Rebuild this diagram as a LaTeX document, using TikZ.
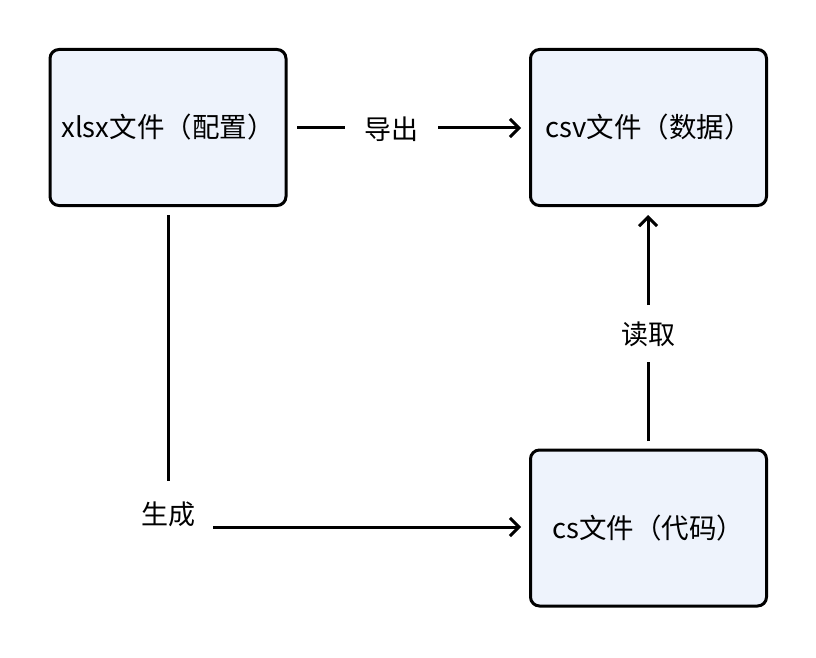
\documentclass[tikz,border=0pt]{standalone}
\usepackage{fontspec}
\setmainfont{Noto Sans CJK SC}
\usetikzlibrary{arrows.meta}
\definecolor{boxfill}{HTML}{EEF3FC}
\begin{document}
\begin{tikzpicture}[x=1pt,y=-1pt,
  box/.style={draw=black,line width=3pt,fill=boxfill,rounded corners=9pt,minimum width=236pt,minimum height=156pt,font=\fontsize{27.5}{32}\selectfont},
  lbl/.style={font=\fontsize{27}{32}\selectfont,inner sep=2pt},
  conn/.style={line width=3pt},
  arr/.style={conn,-{Straight Barb[length=9pt,width=18pt,line width=3pt]}}]
\useasboundingbox (0,0) rectangle (816,658);
\node[box] (a) at (168,127.5) {xlsx文件（配置）};
\node[box] (b) at (648.5,127.5) {csv文件（数据）};
\node[box] (c) at (648.5,528) {cs文件（代码）};
\node[lbl] (l1) at (391,129) {导出};
\node[lbl] (l2) at (648,334) {读取};
\node[lbl] (l3) at (168,514) {生成};
\coordinate (a1) at (297,128);
\coordinate (a2) at (345,128);
\coordinate (a3) at (438,128);
\coordinate (a4) at (521,128);
\draw[conn] (a1) -- (a2);
\draw[arr] (a3) -- (a4);
\coordinate (c1) at (648,441);
\coordinate (c2) at (648,362);
\coordinate (c3) at (648,305);
\coordinate (c4) at (648,215);
\draw[conn] (c1) -- (c2);
\draw[arr] (c3) -- (c4);
\coordinate (g1) at (168,215);
\coordinate (g2) at (168,481);
\coordinate (g3) at (213,527);
\coordinate (g4) at (521,527);
\draw[conn] (g1) -- (g2);
\draw[arr] (g3) -- (g4);
\end{tikzpicture}
\end{document}
